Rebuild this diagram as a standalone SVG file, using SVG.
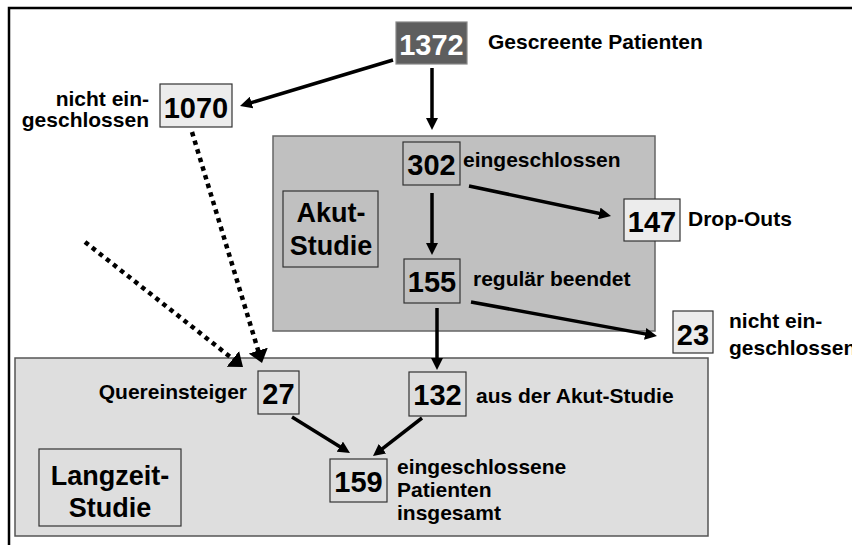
<svg xmlns="http://www.w3.org/2000/svg" width="852" height="545" viewBox="0 0 852 545">
  <style>
    text { font-family: "Liberation Sans", Arial, sans-serif; font-weight: bold; fill: #000; }
    .num { font-size: 29px; text-anchor: middle; }
    .lbl { font-size: 21px; }
    .study { font-size: 27px; text-anchor: middle; }
    .box { stroke: #333; stroke-width: 1.2; }
    .acute { fill: #c0c0c0; }
    .long { fill: #dedede; }
    .out { fill: #ececec; }
    .arrow { stroke: #000; stroke-width: 3.5; fill: none; marker-end: url(#head); }
    .dotted { stroke: #000; stroke-width: 4.5; stroke-dasharray: 4.5 4.5; fill: none; marker-end: url(#dothead); }
  </style>
  <defs>
    <marker id="head" markerUnits="userSpaceOnUse" markerWidth="12" markerHeight="12" refX="4" refY="6" orient="auto">
      <path d="M0,0 L12,6 L0,12 z" fill="#000"/>
    </marker>
    <marker id="dothead" markerUnits="userSpaceOnUse" markerWidth="14" markerHeight="20" refX="2" refY="10" orient="auto">
      <path d="M0,0 L13,10 L0,20 z" fill="#000"/>
    </marker>
  </defs>

  <rect width="852" height="545" fill="#fff"/>
  <!-- outer frame (runs off the right and bottom edges) -->
  <rect x="9" y="8" width="870" height="560" fill="none" stroke="#000" stroke-width="2.5"/>

  <!-- study areas -->
  <g id="langzeit">
    <rect x="15" y="358" width="693" height="178" fill="#dedede" stroke="#555" stroke-width="1.5"/>
    <rect x="39" y="449" width="142" height="77" fill="none" stroke="#333" stroke-width="1.2"/>
    <text class="study" x="110" y="485">Langzeit-</text>
    <text class="study" x="110" y="517">Studie</text>
  </g>
  <g id="akut">
    <rect x="273" y="136" width="382" height="195" fill="#c0c0c0" stroke="#666" stroke-width="1.5"/>
    <rect x="283" y="191" width="95" height="76" fill="none" stroke="#333" stroke-width="1.2"/>
    <text class="study" x="331" y="222">Akut-</text>
    <text class="study" x="331" y="255">Studie</text>
  </g>

  <!-- connectors -->
  <g id="connectors">
    <line class="arrow" x1="393" y1="60" x2="247.7" y2="103.7"/>
    <line class="arrow" x1="432" y1="68" x2="432" y2="122"/>
    <line class="arrow" x1="432" y1="193" x2="432" y2="247"/>
    <line class="arrow" x1="469" y1="186" x2="603.2" y2="214.3"/>
    <line class="arrow" x1="471" y1="302" x2="649.1" y2="334.6"/>
    <line class="arrow" x1="437" y1="308" x2="437" y2="362"/>
    <line class="arrow" x1="292" y1="417" x2="343.2" y2="448.8"/>
    <line class="arrow" x1="422" y1="418" x2="379.3" y2="451.1"/>
    <line class="dotted" x1="192" y1="132" x2="258.8" y2="352.5"/>
    <line class="dotted" x1="85" y1="242" x2="234.4" y2="360.2"/>
  </g>

  <!-- nodes -->
  <g id="n1372">
    <rect x="396" y="22" width="71" height="42" fill="#5e5e5e" stroke="#888" stroke-width="1.2"/>
    <text class="num" x="431.5" y="55" style="fill:#fff">1372</text>
    <text class="lbl" x="488" y="49">Gescreente Patienten</text>
  </g>
  <g id="n1070">
    <rect class="box out" x="160" y="84" width="72" height="43"/>
    <text class="num" x="196" y="118">1070</text>
    <text class="lbl" x="149" y="106" text-anchor="end">nicht ein-</text>
    <text class="lbl" x="149" y="127" text-anchor="end">geschlossen</text>
  </g>
  <g id="n302">
    <rect class="box acute" x="403" y="142" width="57" height="43"/>
    <text class="num" x="431.5" y="175">302</text>
    <text class="lbl" x="463" y="167">eingeschlossen</text>
  </g>
  <g id="n147">
    <rect class="box out" x="624" y="199" width="56" height="42"/>
    <text class="num" x="652" y="232">147</text>
    <text class="lbl" x="688" y="226">Drop-Outs</text>
  </g>
  <g id="n155">
    <rect class="box acute" x="404" y="259" width="56" height="44"/>
    <text class="num" x="432" y="292">155</text>
    <text class="lbl" x="473" y="286">regulär beendet</text>
  </g>
  <g id="n23">
    <rect class="box out" x="673" y="311" width="40" height="42"/>
    <text class="num" x="693" y="345">23</text>
    <text class="lbl" x="729" y="328">nicht ein-</text>
    <text class="lbl" x="729" y="355">geschlossen</text>
  </g>
  <g id="n27">
    <rect class="box long" x="258" y="371" width="41" height="43"/>
    <text class="num" x="278.5" y="404">27</text>
    <text class="lbl" x="247" y="399" text-anchor="end">Quereinsteiger</text>
  </g>
  <g id="n132">
    <rect class="box long" x="409" y="372" width="57" height="44"/>
    <text class="num" x="437.5" y="405">132</text>
    <text class="lbl" x="476" y="403">aus der Akut-Studie</text>
  </g>
  <g id="n159">
    <rect class="box long" x="330" y="459" width="57" height="43"/>
    <text class="num" x="358.5" y="492">159</text>
    <text class="lbl" x="397" y="474">eingeschlossene</text>
    <text class="lbl" x="397" y="497">Patienten</text>
    <text class="lbl" x="397" y="520">insgesamt</text>
  </g>
</svg>
